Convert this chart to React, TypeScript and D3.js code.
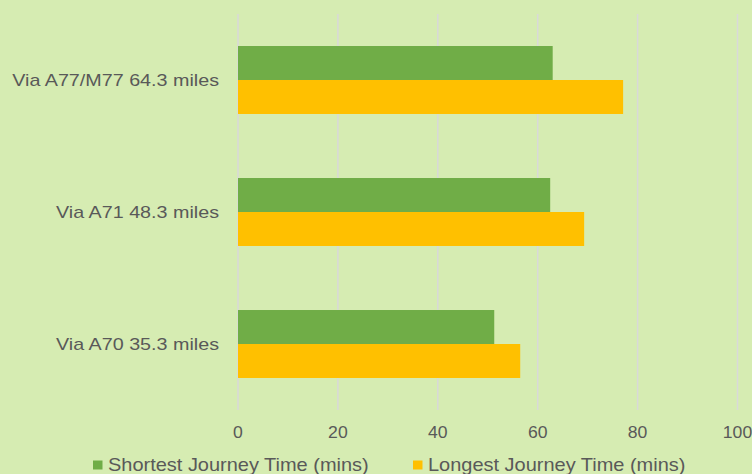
import React from "react";
import * as d3 from "d3";

const categories = ["Via A77/M77 64.3 miles", "Via A71 48.3 miles", "Via A70 35.3 miles"];
const shortest = [63.0, 62.5, 51.3];
const longest = [77.1, 69.3, 56.5];
const seriesNames = ["Shortest Journey Time (mins)", "Longest Journey Time (mins)"];
const xTicks = [0, 20, 40, 60, 80, 100];

const W = 752;
const H = 474;
const BG = "#d6ecb2";
const GREEN = "#70ad47";
const YELLOW = "#ffc000";
const GRID = "#d9d9d9";
const TEXT = "#595959";
const FONT = "'Liberation Sans', Arial, sans-serif";

export default function App() {
  const x = d3.scaleLinear().domain([0, 100]).range([238, 737.5]);
  const y = d3.scaleBand<string>().domain(categories).range([14, 410]).paddingInner(0.485).paddingOuter(0.2425);
  const sub = d3.scaleBand<string>().domain(["s", "l"]).range([0, y.bandwidth()]);
  const series = [
    { key: "s", values: shortest, color: GREEN },
    { key: "l", values: longest, color: YELLOW },
  ];
  const legendItems = [
    { name: seriesNames[0], color: GREEN, x: 93 },
    { name: seriesNames[1], color: YELLOW, x: 413 },
  ];
  return (
    <svg width={W} height={H} style={{ position: "absolute", left: 0, top: 0, display: "block" }}>
      <rect x={0} y={0} width={W} height={H} fill={BG} />
      {xTicks.map((t) => (
        <line key={"g" + t} x1={x(t)} x2={x(t)} y1={14} y2={410} stroke={GRID} strokeWidth={1.5} />
      ))}
      {series.map((s) =>
        categories.map((c, i) => (
          <rect
            key={s.key + c}
            x={x(0)}
            y={(y(c) as number) + (sub(s.key) as number)}
            width={x(s.values[i]) - x(0)}
            height={sub.bandwidth()}
            fill={s.color}
          />
        ))
      )}
      {categories.map((c) => (
        <text
          key={"c" + c}
          transform={`translate(219,${(y(c) as number) + y.bandwidth() / 2 + 6}) scale(1.16,1)`}
          textAnchor="end"
          fontFamily={FONT}
          fontSize={17}
          fill={TEXT}
        >
          {c}
        </text>
      ))}
      {xTicks.map((t) => (
        <text
          key={"t" + t}
          transform={`translate(${x(t)},437.5) scale(1.1,1)`}
          textAnchor="middle"
          fontFamily={FONT}
          fontSize={16}
          fill={TEXT}
        >
          {t}
        </text>
      ))}
      {legendItems.map((l) => (
        <g key={l.name}>
          <rect x={l.x} y={460.5} width={9.5} height={9} fill={l.color} />
          <text
            transform={`translate(${l.x + 15},471) scale(1.11,1)`}
            fontFamily={FONT}
            fontSize={18}
            fill={TEXT}
          >
            {l.name}
          </text>
        </g>
      ))}
    </svg>
  );
}
